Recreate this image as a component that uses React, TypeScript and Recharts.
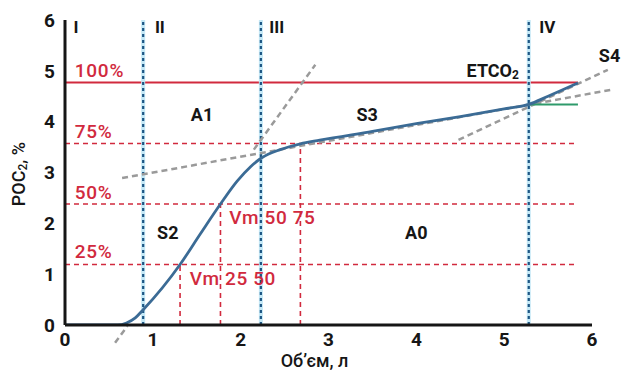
import React from 'react';
import { LineChart, Line, XAxis, YAxis, ReferenceLine, ReferenceDot } from 'recharts';

// capnogram curve
const curveX = [0, 0.3, 0.6, 0.7, 0.8, 0.89, 1.31, 1.54, 1.77, 1.96, 2.11, 2.24, 2.45, 2.68, 2.9, 3.5, 4.0, 4.5, 5.0, 5.28, 5.5, 5.84];
const curveY = [0, 0, 0, 0.04, 0.14, 0.3, 1.19, 1.79, 2.38, 2.83, 3.11, 3.29, 3.45, 3.565, 3.635, 3.81, 3.96, 4.1, 4.25, 4.34, 4.5, 4.76];

const axisTicks = [0, 1, 2, 3, 4, 5, 6];

// phase borders II, III, IV
const phaseX = [0.89, 2.23, 5.28];

// ETCO2 level and its 75/50/25 % fractions
const etco2 = 4.77;
const levelY = [3.57, 2.38, 1.19];
const levelEnd = 5.84;

// Vm markers (x where curve crosses 25/50/75 %)
const vmX = [1.31, 1.77, 2.68];
const vmY = [1.19, 2.38, 3.57];

const plateauX = [5.28, 5.84];
const plateauY = [4.34, 4.34];

// tangent lines (dashed grey), [x1, y1, x2, y2]
const tangents = [
  [0.57, -0.35, 0.71, -0.02],
  [2.15, 3.45, 2.85, 5.12],
  [0.65, 2.89, 6.23, 4.63],
  [4.48, 3.64, 6.18, 5.02],
];

const phaseNames = ['I', 'II', 'III', 'IV'];
const phaseNameX = [0.125, 1.08, 2.41, 5.49];
const phaseNameY = 5.86;

const pctNames = ['100%', '75%', '50%', '25%'];
const pctY = [5.0, 3.8, 2.6, 1.44];

const areaNames = ['A1', 'S3', 'S2', 'A0', 'S4'];
const areaX = [1.56, 3.44, 1.17, 4.0, 6.2];
const areaY = [4.15, 4.15, 1.81, 1.81, 5.31];

const vmNames = ['Vm 25 50', 'Vm 50 75'];
const vmNameX = [1.42, 1.87];
const vmNameY = [0.92, 2.12];

const RED = '#d12a3e';
const BLACK = '#161616';
const FONT = 'Roboto, "DejaVu Sans", sans-serif';

const curve = curveX.map((x, i) => ({ x, y: curveY[i] }));
const plateau = plateauX.map((x, i) => ({ x, y: plateauY[i] }));

const textAt = (
  content: React.ReactNode,
  opts: { fill: string; size: number; weight: number; anchor?: 'start' | 'middle' | 'end'; rotate?: boolean; spacing?: number }
) => (props: any) => {
  const { x, y } = props.viewBox;
  return (
    <text
      x={x}
      y={y}
      fill={opts.fill}
      fontSize={opts.size}
      fontWeight={opts.weight}
      fontFamily={FONT}
      letterSpacing={opts.spacing || 0}
      textAnchor={opts.anchor || 'middle'}
      dominantBaseline="central"
      transform={opts.rotate ? `rotate(-90 ${x} ${y})` : undefined}
    >
      {content}
    </text>
  );
};

const note = (key: string, x: number, y: number, label: any) => (
  <ReferenceDot key={key} x={x} y={y} r={0} fill="none" stroke="none" ifOverflow="visible" label={label} />
);

export default function App() {
  return (
    <div style={{ position: 'absolute', left: 0, top: 0, background: '#fff' }}>
      <LineChart width={631} height={374} margin={{ top: 20, right: 39, left: 0, bottom: 0 }}>
        <XAxis
          type="number"
          dataKey="x"
          domain={[0, 6]}
          ticks={axisTicks}
          height={49}
          tickLine={false}
          axisLine={{ stroke: BLACK, strokeWidth: 3 }}
          tick={{ fill: BLACK, fontSize: 19, fontWeight: 700, fontFamily: FONT }}
          allowDataOverflow
        />
        <YAxis
          type="number"
          dataKey="y"
          domain={[0, 6]}
          ticks={axisTicks}
          width={65}
          tickLine={false}
          tickMargin={4}
          axisLine={{ stroke: BLACK, strokeWidth: 3 }}
          tick={{ fill: BLACK, fontSize: 19, fontWeight: 700, fontFamily: FONT }}
          allowDataOverflow
        />

        {/* ETCO2 level */}
        <ReferenceLine segment={[{ x: 0, y: etco2 }, { x: levelEnd, y: etco2 }]} stroke={RED} strokeWidth={2} />
        {levelY.map((y, i) => (
          <ReferenceLine key={'lv' + i} segment={[{ x: 0, y }, { x: levelEnd, y }]} stroke={RED} strokeWidth={1.6} strokeDasharray="5 4" />
        ))}
        {vmX.map((x, i) => (
          <ReferenceLine key={'vm' + i} segment={[{ x, y: 0 }, { x, y: vmY[i] }]} stroke={RED} strokeWidth={1.6} strokeDasharray="5 4" />
        ))}

        {/* phase borders */}
        {phaseX.map((x, i) => (
          <ReferenceLine key={'pg' + i} segment={[{ x, y: 0 }, { x, y: 6 }]} stroke="#c4e8f6" strokeWidth={4} />
        ))}
        {phaseX.map((x, i) => (
          <ReferenceLine key={'pb' + i} segment={[{ x, y: 0 }, { x, y: 6 }]} stroke="#1d5684" strokeWidth={2.2} strokeDasharray="3 3" />
        ))}

        {tangents.map((t, i) => (
          <ReferenceLine
            key={'tg' + i}
            segment={[{ x: t[0], y: t[1] }, { x: t[2], y: t[3] }]}
            stroke="#9a9a9a"
            strokeWidth={2.5}
            strokeDasharray="6 4"
            ifOverflow="visible"
          />
        ))}

        <Line data={plateau} dataKey="y" stroke="#2e9a6b" strokeWidth={2} dot={false} isAnimationActive={false} />
        <Line data={curve} dataKey="y" type="monotone" stroke="#3b6b95" strokeWidth={2.8} dot={false} isAnimationActive={false} />

        {phaseNames.map((n, i) =>
          note('ph' + i, phaseNameX[i], phaseNameY, textAt(n, { fill: BLACK, size: 17, weight: 700 }))
        )}
        {pctNames.map((n, i) =>
          note('pc' + i, 0.11, pctY[i], textAt(n, { fill: RED, size: 19, weight: 500, anchor: 'start', spacing: 0.8 }))
        )}
        {areaNames.map((n, i) =>
          note('ar' + i, areaX[i], areaY[i], textAt(n, { fill: BLACK, size: 18, weight: 700 }))
        )}
        {vmNames.map((n, i) =>
          note('vn' + i, vmNameX[i], vmNameY[i], textAt(n, { fill: RED, size: 19, weight: 500, anchor: 'start', spacing: 0.6 }))
        )}
        {note(
          'etco2',
          4.87,
          5.02,
          textAt(
            <>
              <tspan>ETCO</tspan>
              <tspan fontSize={12} dy={5}>2</tspan>
            </>,
            { fill: BLACK, size: 18, weight: 700 }
          )
        )}
        {note(
          'ytitle',
          -0.535,
          2.97,
          textAt(
            <>
              <tspan>РОС</tspan>
              <tspan fontSize={12} dy={5}>2</tspan>
              <tspan dy={-5}>, %</tspan>
            </>,
            { fill: BLACK, size: 18, weight: 500, rotate: true }
          )
        )}
        {note('xtitle', 2.84, -0.69, textAt('Об’єм, л', { fill: BLACK, size: 18, weight: 500 }))}
      </LineChart>
    </div>
  );
}
